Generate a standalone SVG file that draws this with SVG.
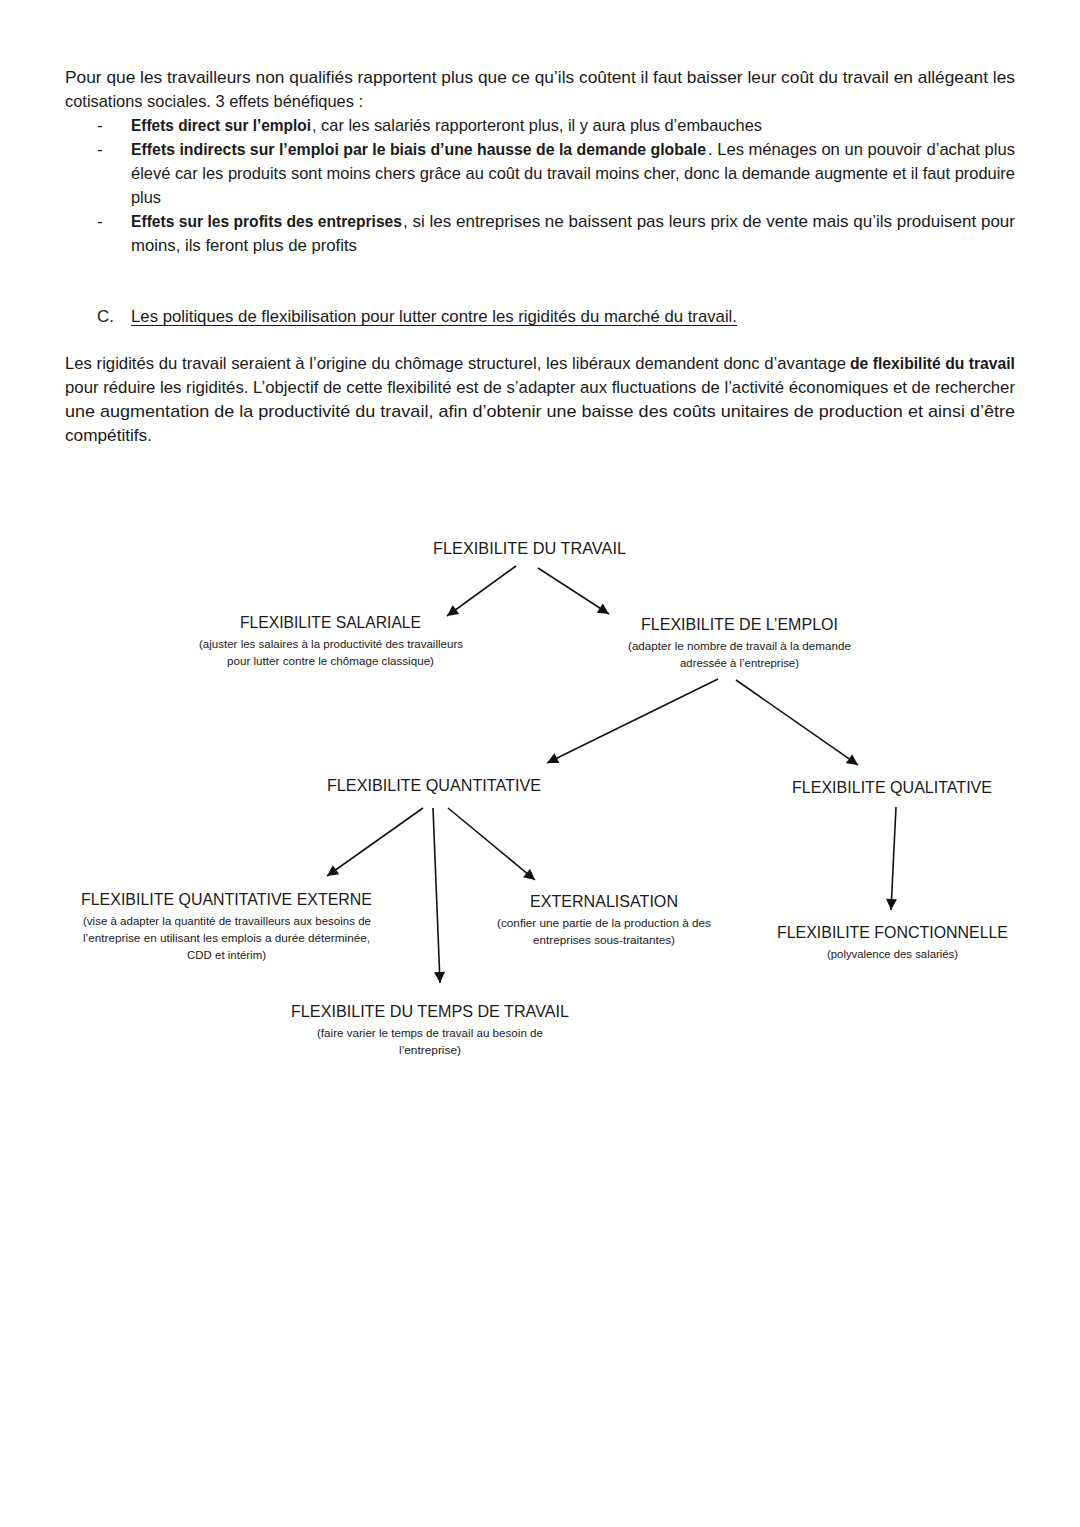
<svg xmlns="http://www.w3.org/2000/svg" width="1080" height="1527" viewBox="0 0 1080 1527">
<style>
text{font-family:"Liberation Sans","Open Sans",sans-serif;fill:#1a1a1a}
.b{font-size:17px}
.bd{font-size:17px;font-weight:700}
.h{font-size:16.5px}
.s{font-size:10.5px}
.c{stroke:#111;stroke-width:1.6;fill:none}
</style>
<defs>
<marker id="ah" viewBox="0 0 10 10" refX="10" refY="5" markerWidth="13" markerHeight="11" markerUnits="userSpaceOnUse" orient="auto"><path d="M0,0 L10,5 L0,10 z" fill="#111"/></marker>
</defs>
<rect width="1080" height="1527" fill="#fff"/>
<g id="text-intro">
<text class="b" x="65" y="83" textLength="950" lengthAdjust="spacingAndGlyphs">Pour que les travailleurs non qualifiés rapportent plus que ce qu’ils coûtent il faut baisser leur coût du travail en allégeant les</text>
<text class="b" x="65" y="107" textLength="298" lengthAdjust="spacingAndGlyphs">cotisations sociales. 3 effets bénéfiques :</text>
<text class="b" x="97" y="131">-</text>
<text class="bd" x="131" y="131" textLength="180" lengthAdjust="spacingAndGlyphs">Effets direct sur l’emploi</text>
<text class="b" x="312" y="131" textLength="450" lengthAdjust="spacingAndGlyphs">, car les salariés rapporteront plus, il y aura plus d’embauches</text>
<text class="b" x="97" y="155">-</text>
<text class="bd" x="131" y="155" textLength="575" lengthAdjust="spacingAndGlyphs">Effets indirects sur l’emploi par le biais d’une hausse de la demande globale</text>
<text class="b" x="708" y="155" textLength="307" lengthAdjust="spacingAndGlyphs">. Les ménages on un pouvoir d’achat plus</text>
<text class="b" x="131" y="179" textLength="884" lengthAdjust="spacingAndGlyphs">élevé car les produits sont moins chers grâce au coût du travail moins cher, donc la demande augmente et il faut produire</text>
<text class="b" x="131" y="203" textLength="30" lengthAdjust="spacingAndGlyphs">plus</text>
<text class="b" x="97" y="227">-</text>
<text class="bd" x="131" y="227" textLength="271" lengthAdjust="spacingAndGlyphs">Effets sur les profits des entreprises</text>
<text class="b" x="403" y="227" textLength="612" lengthAdjust="spacingAndGlyphs">, si les entreprises ne baissent pas leurs prix de vente mais qu’ils produisent pour</text>
<text class="b" x="131" y="251" textLength="226" lengthAdjust="spacingAndGlyphs">moins, ils feront plus de profits</text>
</g>
<g id="heading-c">
<text class="b" x="97" y="322">C.</text>
<text class="b" x="131" y="322" textLength="606" lengthAdjust="spacingAndGlyphs">Les politiques de flexibilisation pour lutter contre les rigidités du marché du travail.</text>
<line x1="131" y1="325.5" x2="737" y2="325.5" stroke="#1a1a1a" stroke-width="1.1"/>
</g>
<g id="text-rigidites">
<text class="b" x="65" y="369" textLength="781" lengthAdjust="spacingAndGlyphs">Les rigidités du travail seraient à l’origine du chômage structurel, les libéraux demandent donc d’avantage</text>
<text class="bd" x="850" y="369" textLength="165" lengthAdjust="spacingAndGlyphs">de flexibilité du travail</text>
<text class="b" x="65" y="393" textLength="950" lengthAdjust="spacingAndGlyphs">pour réduire les rigidités. L’objectif de cette flexibilité est de s’adapter aux fluctuations de l’activité économiques et de rechercher</text>
<text class="b" x="65" y="417" textLength="950" lengthAdjust="spacingAndGlyphs">une augmentation de la productivité du travail, afin d’obtenir une baisse des coûts unitaires de production et ainsi d’être</text>
<text class="b" x="65" y="441" textLength="87" lengthAdjust="spacingAndGlyphs">compétitifs.</text>
</g>
<g id="connectors">
<line class="c" x1="516" y1="566" x2="447" y2="616" marker-end="url(#ah)"/>
<line class="c" x1="538" y1="568" x2="609" y2="614" marker-end="url(#ah)"/>
<line class="c" x1="718" y1="679" x2="547" y2="763" marker-end="url(#ah)"/>
<line class="c" x1="736" y1="680" x2="858" y2="765" marker-end="url(#ah)"/>
<line class="c" x1="423" y1="808" x2="327" y2="876" marker-end="url(#ah)"/>
<line class="c" x1="433" y1="808" x2="440" y2="983" marker-end="url(#ah)"/>
<line class="c" x1="448" y1="808" x2="535" y2="880" marker-end="url(#ah)"/>
<line class="c" x1="896" y1="807" x2="891" y2="910" marker-end="url(#ah)"/>
</g>
<g id="n-travail">
<text class="h" x="433" y="554" textLength="193" lengthAdjust="spacingAndGlyphs">FLEXIBILITE DU TRAVAIL</text>
</g>
<g id="n-salariale">
<text class="h" x="240" y="628" textLength="181" lengthAdjust="spacingAndGlyphs">FLEXIBILITE SALARIALE</text>
<text class="s" x="199" y="648" textLength="264" lengthAdjust="spacingAndGlyphs">(ajuster les salaires à la productivité des travailleurs</text>
<text class="s" x="227" y="665" textLength="207" lengthAdjust="spacingAndGlyphs">pour lutter contre le chômage classique)</text>
</g>
<g id="n-emploi">
<text class="h" x="641" y="630" textLength="197" lengthAdjust="spacingAndGlyphs">FLEXIBILITE DE L’EMPLOI</text>
<text class="s" x="628" y="650" textLength="223" lengthAdjust="spacingAndGlyphs">(adapter le nombre de travail à la demande</text>
<text class="s" x="680" y="667" textLength="119" lengthAdjust="spacingAndGlyphs">adressée à l’entreprise)</text>
</g>
<g id="n-quantitative">
<text class="h" x="327" y="791" textLength="214" lengthAdjust="spacingAndGlyphs">FLEXIBILITE QUANTITATIVE</text>
</g>
<g id="n-qualitative">
<text class="h" x="792" y="793" textLength="200" lengthAdjust="spacingAndGlyphs">FLEXIBILITE QUALITATIVE</text>
</g>
<g id="n-externe">
<text class="h" x="81" y="905" textLength="291" lengthAdjust="spacingAndGlyphs">FLEXIBILITE QUANTITATIVE EXTERNE</text>
<text class="s" x="83" y="925" textLength="288" lengthAdjust="spacingAndGlyphs">(vise à adapter la quantité de travailleurs aux besoins de</text>
<text class="s" x="83" y="942" textLength="287" lengthAdjust="spacingAndGlyphs">l’entreprise en utilisant les emplois a durée déterminée,</text>
<text class="s" x="187" y="959" textLength="79" lengthAdjust="spacingAndGlyphs">CDD et intérim)</text>
</g>
<g id="n-externalisation">
<text class="h" x="530" y="907" textLength="148" lengthAdjust="spacingAndGlyphs">EXTERNALISATION</text>
<text class="s" x="497" y="927" textLength="214" lengthAdjust="spacingAndGlyphs">(confier une partie de la production à des</text>
<text class="s" x="533" y="944" textLength="142" lengthAdjust="spacingAndGlyphs">entreprises sous-traitantes)</text>
</g>
<g id="n-fonctionnelle">
<text class="h" x="777" y="938" textLength="231" lengthAdjust="spacingAndGlyphs">FLEXIBILITE FONCTIONNELLE</text>
<text class="s" x="827" y="958" textLength="131" lengthAdjust="spacingAndGlyphs">(polyvalence des salariés)</text>
</g>
<g id="n-temps">
<text class="h" x="291" y="1017" textLength="278" lengthAdjust="spacingAndGlyphs">FLEXIBILITE DU TEMPS DE TRAVAIL</text>
<text class="s" x="317" y="1037" textLength="226" lengthAdjust="spacingAndGlyphs">(faire varier le temps de travail au besoin de</text>
<text class="s" x="399" y="1054" textLength="62" lengthAdjust="spacingAndGlyphs">l’entreprise)</text>
</g>
</svg>
